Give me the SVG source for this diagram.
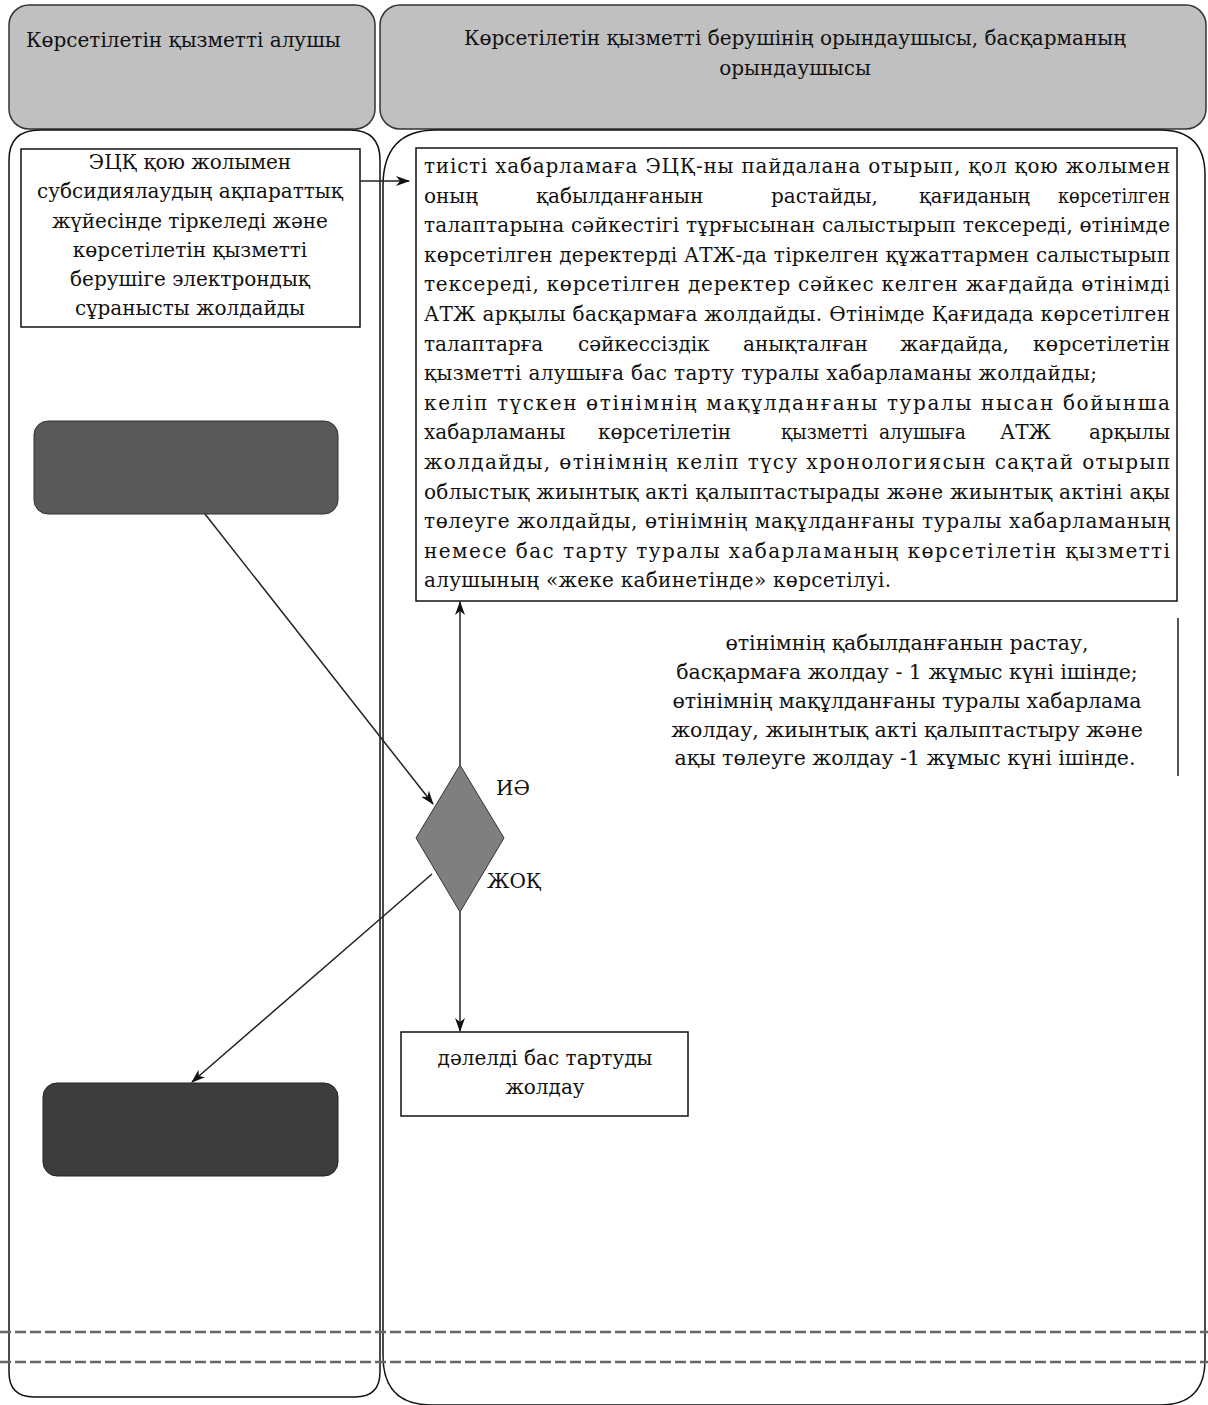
<svg xmlns="http://www.w3.org/2000/svg" width="1208" height="1405" viewBox="0 0 1208 1405">
<style>
.hdr{fill:#c0c0c0;stroke:#333;stroke-width:1.5}
.lane{fill:none;stroke:#111;stroke-width:1.5}
.box{fill:#fff;stroke:#111;stroke-width:1.5}
.t{font-family:"DejaVu Serif","Liberation Serif",serif;font-size:20px;fill:#111}
.n{font-size:20.5px}
.c{text-anchor:middle}
.conn{stroke:#222;stroke-width:1.5;fill:none}
.dash{stroke:#666;stroke-width:2.5;stroke-dasharray:11 4;fill:none}
</style>
<defs>
<marker id="ah" markerWidth="14" markerHeight="10" refX="13" refY="5" orient="auto" markerUnits="userSpaceOnUse">
<path d="M0,0 L14,5 L0,10 L4,5 Z" fill="#111"/>
</marker>
</defs>
<rect width="1208" height="1405" fill="#fff"/>

<g id="lane-left-header">
<rect class="hdr" x="9" y="5" width="366" height="124" rx="20"/>
<text class="t" x="26" y="47">Көрсетілетін  қызметті  алушы</text>
</g>
<g id="lane-right-header">
<rect class="hdr" x="380" y="5" width="826" height="124" rx="20"/>
<text class="t c" x="795" y="45">Көрсетілетін  қызметті  берушінің орындаушысы, басқарманың</text>
<text class="t c" x="795" y="75">орындаушысы</text>
</g>
<g id="lane-left-body">
<path class="lane" stroke-width="2" d="M40 130 H350 Q380 130 380 160 V1372 Q380 1397 355 1397 H34 Q9 1397 9 1372 V160 Q9 130 40 130 Z"/>
</g>
<g id="lane-right-body">
<path class="lane" d="M436 130 H1160 Q1205 130 1205 175 V1360 Q1205 1405 1160 1405 H432 Q383 1405 383 1356 V186 Q383 130 436 130 Z"/>
</g>

<g id="separators">
<line class="dash" x1="0" y1="1332" x2="1208" y2="1332"/>
<line class="dash" x1="0" y1="1362" x2="1208" y2="1362"/>
</g>

<g id="node-register">
<rect class="box" x="21" y="149" width="339" height="178"/>
<text class="t c" x="190" y="169">ЭЦҚ қою жолымен</text>
<text class="t c" x="190" y="198">субсидиялаудың  ақпараттық</text>
<text class="t c" x="190" y="228">жүйесінде  тіркеледі  және</text>
<text class="t c" x="190" y="257">көрсетілетін  қызметті</text>
<text class="t c" x="190" y="286">берушіге электрондық</text>
<text class="t c" x="190" y="315">сұранысты жолдайды</text>
</g>

<g id="node-process">
<rect class="box" x="416" y="148" width="761" height="453"/>
<text class="t" x="424" y="173" textLength="746" lengthAdjust="spacing">тиісті хабарламаға ЭЦҚ-ны пайдалана отырып, қол қою жолымен</text>
<text class="t" y="202.6"><tspan x="424">оның </tspan><tspan x="536">қабылданғанын </tspan><tspan x="771">растайды, </tspan><tspan x="919" textLength="111" lengthAdjust="spacingAndGlyphs">қағиданың</tspan> <tspan x="1058" textLength="112" lengthAdjust="spacingAndGlyphs">көрсетілген</tspan></text>
<text class="t" x="424" y="232.2" textLength="746" lengthAdjust="spacing">талаптарына сәйкестігі тұрғысынан салыстырып тексереді, өтінімде</text>
<text class="t" x="424" y="261.8" textLength="746" lengthAdjust="spacing">көрсетілген деректерді АТЖ-да тіркелген құжаттармен салыстырып</text>
<text class="t" x="424" y="291.4" textLength="746" lengthAdjust="spacing">тексереді, көрсетілген деректер сәйкес  келген жағдайда өтінімді</text>
<text class="t" x="424" y="321" textLength="746" lengthAdjust="spacing">АТЖ  арқылы басқармаға жолдайды. Өтінімде Қағидада көрсетілген</text>
<text class="t" y="350.6"><tspan x="424">талаптарға </tspan><tspan x="578">сәйкессіздік </tspan><tspan x="743">анықталған </tspan><tspan x="900">жағдайда, </tspan><tspan x="1033" textLength="137" lengthAdjust="spacingAndGlyphs">көрсетілетін</tspan></text>
<text class="t" x="424" y="380.2" textLength="673" lengthAdjust="spacing">қызметті  алушыға бас тарту туралы хабарламаны жолдайды;</text>
<text class="t" x="424" y="409.8" textLength="746" lengthAdjust="spacing">келіп  түскен  өтінімнің  мақұлданғаны  туралы  нысан  бойынша</text>
<text class="t" y="439.4"><tspan x="424">хабарламаны </tspan><tspan x="598">көрсетілетін </tspan><tspan x="781" textLength="87" lengthAdjust="spacingAndGlyphs">қызметті</tspan> <tspan x="879" textLength="87" lengthAdjust="spacingAndGlyphs">алушыға</tspan> <tspan x="1000">АТЖ </tspan><tspan x="1089" textLength="81" lengthAdjust="spacingAndGlyphs">арқылы</tspan></text>
<text class="t" x="424" y="469" textLength="746" lengthAdjust="spacing">жолдайды,  өтінімнің  келіп  түсу  хронологиясын  сақтай  отырып</text>
<text class="t" x="424" y="498.6" textLength="746" lengthAdjust="spacing">облыстық жиынтық акті қалыптастырады және жиынтық актіні ақы</text>
<text class="t" x="424" y="528.2" textLength="746" lengthAdjust="spacing">төлеуге  жолдайды, өтінімнің мақұлданғаны туралы хабарламаның</text>
<text class="t" x="424" y="557.8" textLength="746" lengthAdjust="spacing">немесе  бас  тарту  туралы  хабарламаның  көрсетілетін  қызметті</text>
<text class="t" x="424" y="587.4" textLength="467" lengthAdjust="spacing">алушының «жеке кабинетінде»  көрсетілуі.</text>
</g>

<g id="node-note">
<text class="t n c" x="907" y="650">өтінімнің  қабылданғанын  растау,</text>
<text class="t n c" x="907" y="679">басқармаға жолдау - 1  жұмыс күні ішінде;</text>
<text class="t n c" x="907" y="708">өтінімнің  мақұлданғаны  туралы хабарлама</text>
<text class="t n c" x="907" y="737">жолдау,  жиынтық  акті қалыптастыру  және</text>
<text class="t n c" x="905" y="765">ақы төлеуге жолдау -1  жұмыс күні ішінде.</text>
<line x1="1178" y1="618" x2="1178" y2="776" stroke="#555" stroke-width="2"/>
</g>

<g id="node-start">
<rect x="34" y="421" width="304" height="93" rx="14" fill="#595959" stroke="#333" stroke-width="1"/>
</g>
<g id="node-end">
<rect x="43" y="1083" width="295" height="93" rx="14" fill="#3d3d3d" stroke="#222" stroke-width="1"/>
</g>

<g id="node-decision">
<polygon points="460,765 504,838 460,912 416,838" fill="#7f7f7f" stroke="#333" stroke-width="1"/>
<text class="t" x="496" y="795">ИӘ</text>
<text class="t" x="487" y="888">ЖОҚ</text>
</g>

<g id="node-reject">
<rect class="box" x="401" y="1032" width="287" height="84"/>
<text class="t c" x="545" y="1065">дәлелді  бас тартуды</text>
<text class="t c" x="545" y="1094">жолдау</text>
</g>

<g id="connectors">
<line class="conn" x1="360" y1="181" x2="409" y2="181" marker-end="url(#ah)"/>
<line class="conn" x1="460" y1="765" x2="460" y2="602" marker-end="url(#ah)"/>
<line class="conn" x1="205" y1="514" x2="433" y2="804" marker-end="url(#ah)"/>
<line class="conn" x1="432" y1="874" x2="192" y2="1082" marker-end="url(#ah)"/>
<line class="conn" x1="460" y1="912" x2="460" y2="1031" marker-end="url(#ah)"/>
</g>
</svg>
